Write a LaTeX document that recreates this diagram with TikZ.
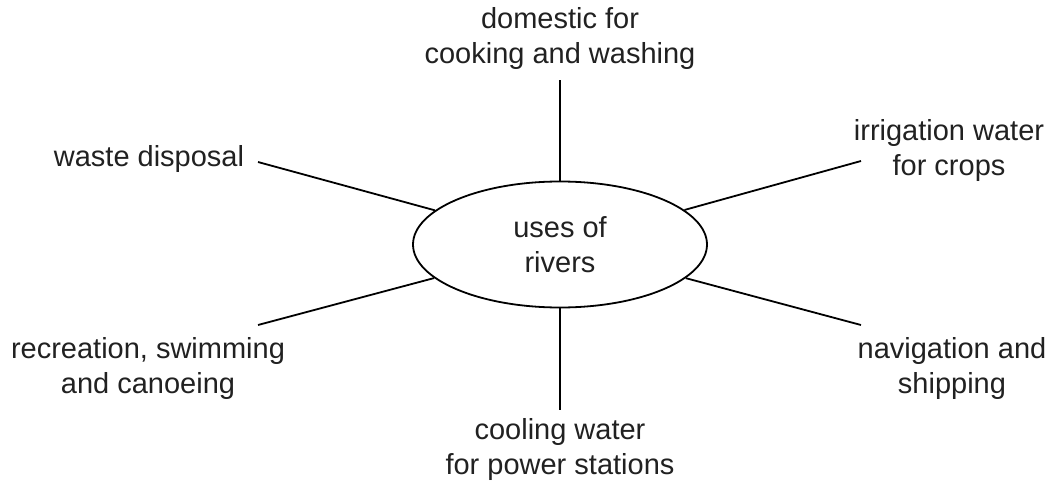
\documentclass[tikz,border=0pt]{standalone}
\usepackage{fontspec}
\setmainfont{Liberation Sans}
\usepackage{tikz}
\usetikzlibrary{shapes.geometric,positioning}

\begin{document}
\begin{tikzpicture}[x=1pt,y=-1pt,line width=1.8pt,
    font=\fontsize{29}{35}\selectfont,
    hub/.style={ellipse,draw,inner sep=0pt,minimum width=294pt,minimum height=126pt,align=center,text=black!87},
    use/.style={align=center,inner sep=0pt,text=black!87}]

  \useasboundingbox (0,0) rectangle (1052,484);

  % centre
  \node[hub]  (uses)  at (560,244.5) {uses of\\rivers};

  % the uses round it
  \node[use]  (dom)   at (560,39)    {domestic for\\cooking and washing};
  \node[use]  (irr)   at (949,150.5) {irrigation water\\for crops};
  \node[use]  (nav)   at (952,368)   {navigation and\\shipping};
  \node[use]  (cool)  at (560,449.5) {cooling water\\for power stations};
  \node[use]  (rec)   at (148,368)   {recreation, swimming\\and canoeing};
  \node[use,anchor=base east] (waste) at (245,167) {waste disposal};

  % ends of the spokes
  \coordinate (dom-end)   at (560,80);
  \coordinate (irr-end)   at (861,161);
  \coordinate (nav-end)   at (861,325);
  \coordinate (cool-end)  at (560,410);
  \coordinate (rec-end)   at (258,325);
  \coordinate (waste-end) at (258,162);

  \foreach \u in {dom,irr,nav,cool,rec,waste}
    \draw (uses) -- (\u-end);
\end{tikzpicture}
\end{document}
